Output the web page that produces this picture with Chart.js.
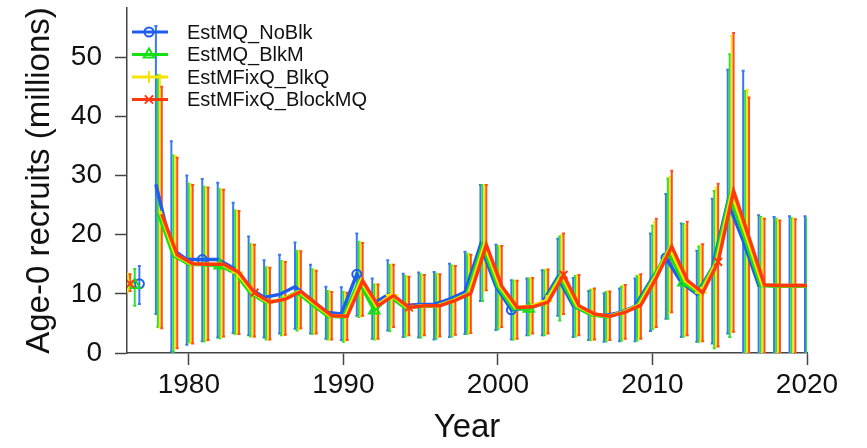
<!DOCTYPE html>
<html>
<head>
<meta charset="utf-8">
<script src="https://cdn.jsdelivr.net/npm/chart.js@4.4.1/dist/chart.umd.min.js"></script>
<style>
  html, body { margin: 0; padding: 0; background: #fff; }
  #wrap { width: 867px; height: 448px; }
</style>
</head>
<body>
<div id="wrap"><canvas id="chart" width="867" height="448"></canvas></div>
<script>
// Age-0 recruitment estimates (millions) with 95% intervals, four model runs
const years = [1978, 1979, 1980, 1981, 1982, 1983, 1984, 1985, 1986, 1987,
               1988, 1989, 1990, 1991, 1992, 1993, 1994, 1995, 1996, 1997,
               1998, 1999, 2000, 2001, 2002, 2003, 2004, 2005, 2006, 2007,
               2008, 2009, 2010, 2011, 2012, 2013, 2014, 2015, 2016, 2017,
               2018, 2019, 2020];
const seriesNames = ['EstMQ_NoBlk', 'EstMQ_BlkM', 'EstMFixQ_BlkQ', 'EstMFixQ_BlockMQ'];

const noBlk   = [28.5, 17.7, 15.8, 15.8, 15.8, 14.4, 11.1, 9.4, 9.9, 11.2,
                 9.1, 6.9, 6.6, 13.3, 8.3, 9.8, 8.0, 8.2, 8.2, 9.1,
                 10.3, 18.2, 11.3, 7.3, 7.6, 8.5, 12.8, 8.0, 6.7, 6.3,
                 6.8, 7.9, 12.2, 16.1, 11.9, 10.0, 14.4, 25.5, 19.0, 11.5,
                 11.4, 11.4, 11.4];
const noBlkLo = [6.6, 0.2, 1.4, 2.0, 2.6, 3.4, 3.0, 2.6, 3.3, 4.1,
                 3.3, 2.4, 2.2, 6.3, 2.4, 3.8, 2.7, 2.6, 2.3, 2.7,
                 3.2, 8.8, 3.9, 2.3, 3.0, 3.0, 6.3, 2.7, 2.2, 1.9,
                 2.0, 2.0, 3.7, 5.8, 2.7, 1.9, 1.6, 3.3, 0, 0,
                 0, 0, 0];
const noBlkHi = [55.3, 35.8, 30.0, 29.4, 28.8, 25.4, 19.7, 15.7, 16.6, 18.7,
                 14.9, 11.2, 11.1, 20.2, 12.6, 15.7, 13.4, 13.6, 13.7, 15.1,
                 17.1, 28.4, 18.3, 12.3, 12.6, 14.0, 19.3, 12.7, 10.5, 10.1,
                 10.9, 12.6, 20.2, 26.9, 21.9, 17.3, 26.1, 47.9, 47.7, 23.3,
                 23.0, 23.1, 23.1];

const blkM   = [23.8, 16.5, 15.0, 14.9, 14.8, 13.5, 10.1, 8.5, 9.0, 10.3,
                8.2, 6.2, 6.1, 12.1, 7.2, 9.6, 7.6, 7.9, 7.9, 8.8,
                10.0, 18.2, 11.2, 7.5, 7.5, 8.5, 12.9, 7.9, 6.5, 6.1,
                6.8, 8.0, 12.4, 17.3, 11.9, 10.1, 14.9, 26.5, 19.2, 11.4,
                11.3, 11.3, 11.3];
const blkMLo = [4.4, 0.2, 1.8, 2.0, 2.5, 3.2, 2.8, 2.3, 3.0, 3.8,
                3.2, 2.3, 1.9, 6.1, 2.3, 3.7, 2.8, 2.6, 2.4, 2.8,
                3.2, 8.8, 4.0, 2.3, 3.0, 3.0, 5.5, 2.8, 2.2, 2.0,
                2.1, 2.1, 4.0, 5.8, 2.8, 1.9, 0.8, 2.7, 0, 0,
                0, 0, 0];
const blkMHi = [47.0, 33.4, 28.6, 28.1, 27.7, 24.1, 18.4, 14.5, 15.5, 17.3,
                14.1, 10.5, 10.3, 18.8, 11.6, 14.9, 13.0, 13.3, 13.4, 14.8,
                16.8, 28.4, 18.1, 12.2, 12.6, 14.0, 19.7, 13.0, 10.7, 10.3,
                11.2, 13.0, 21.5, 29.5, 21.8, 18.0, 27.4, 50.5, 44.3, 23.0,
                22.7, 22.8, 22.8];

const blkQ   = [24.0, 16.6, 15.1, 15.0, 15.0, 13.6, 10.2, 8.6, 9.1, 10.4,
                8.3, 6.3, 6.2, 12.2, 8.0, 9.8, 7.7, 8.0, 8.0, 8.9,
                10.1, 18.3, 11.3, 7.7, 7.9, 8.8, 13.1, 8.0, 6.6, 6.2,
                6.9, 8.1, 12.6, 17.7, 12.2, 10.2, 15.2, 27.0, 19.4, 11.5,
                11.4, 11.4, 11.4];
const blkQLo = [4.3, 0.8, 1.7, 2.1, 2.7, 3.2, 2.8, 2.3, 3.1, 4.0,
                3.3, 2.3, 2.1, 6.2, 2.4, 4.3, 3.0, 3.0, 2.8, 3.1,
                3.4, 10.6, 4.4, 2.4, 3.3, 3.3, 6.5, 3.0, 2.3, 2.2,
                2.4, 2.4, 4.3, 6.8, 3.0, 2.0, 1.1, 3.6, 0, 0,
                0, 0, 0];
const blkQHi = [47.0, 33.3, 28.5, 28.0, 27.6, 24.0, 18.3, 14.4, 15.4, 17.2,
                14.0, 10.4, 10.2, 18.7, 11.6, 14.9, 12.9, 13.2, 13.3, 14.7,
                16.7, 28.4, 18.1, 12.2, 12.7, 14.1, 20.0, 13.1, 10.8, 10.4,
                11.4, 13.2, 22.2, 29.8, 21.6, 18.2, 28.0, 53.6, 44.5, 22.8,
                22.5, 22.7, 22.7];

const blockMQ   = [23.5, 16.6, 15.1, 15.0, 15.0, 13.6, 10.2, 8.6, 9.1, 10.4,
                   8.3, 6.3, 6.2, 12.2, 8.0, 9.7, 7.7, 8.0, 8.0, 8.9,
                   10.1, 18.3, 11.3, 7.7, 7.8, 8.6, 13.2, 8.0, 6.6, 6.2,
                   6.9, 8.1, 12.7, 18.0, 12.3, 10.2, 15.4, 27.4, 19.5, 11.5,
                   11.4, 11.4, 11.4];
const blockMQLo = [4.2, 0.8, 1.6, 2.2, 2.8, 3.2, 2.8, 2.3, 3.1, 4.2,
                   3.3, 2.3, 2.2, 6.3, 2.4, 4.4, 3.0, 3.0, 2.8, 3.1,
                   3.4, 10.6, 4.4, 2.4, 3.3, 3.3, 6.6, 3.0, 2.3, 2.2,
                   2.4, 2.4, 4.4, 6.9, 3.0, 2.0, 1.1, 3.6, 0, 0,
                   0, 0, 0];
const blockMQHi = [45.0, 33.0, 28.4, 28.0, 27.6, 24.0, 18.3, 14.4, 15.4, 17.2,
                   13.9, 10.3, 10.2, 18.6, 11.6, 14.9, 12.9, 13.2, 13.3, 14.7,
                   16.6, 28.4, 18.1, 12.2, 12.7, 14.1, 20.2, 13.2, 10.9, 10.4,
                   11.5, 13.3, 22.7, 30.8, 22.2, 18.4, 28.6, 54.1, 43.2, 22.7,
                   22.4, 22.6, 22.6];

// unfished (initial) recruitment, shown apart from the time series
const initX  = [1976.8, 1976.5, 1976.1, 1976.2];
const initR  = [11.7, 11.5, 11.6, 11.7];
const initLo = [8.3, 8.0, 10.4, 10.5];
const initHi = [14.7, 14.2, 13.4, 13.3];

// years that carry a symbol on each line
const markYears = [
  [1981, 1991, 2001, 2011],
  [1982, 1992, 2002, 2012],
  [1983, 1993, 2003, 2013],
  [1984, 1994, 2004, 2014]
];

const xTicks = [1980, 1990, 2000, 2010, 2020];
const yTicks = [0, 10, 20, 30, 40, 50];

const seriesVals = [noBlk, blkM, blkQ, blockMQ];
const seriesLo = [noBlkLo, blkMLo, blkQLo, blockMQLo];
const seriesHi = [noBlkHi, blkMHi, blkQHi, blockMQHi];

const lineColors = ['#1f5cf0', '#14e014', '#f7e400', '#ff3a0a'];
const barColors  = ['#3a78f2', '#30e030', '#f8e614', '#ff4f20'];
const pointStyles = ['circle', 'triangle', 'cross', 'crossRot'];
const pointSizes = [4.5, 6, 6, 5.5];
const xShift = [-0.13, 0, 0.13, 0.25];

const FONT = '"Liberation Sans", Arial, sans-serif';
Chart.defaults.font.family = FONT;
Chart.defaults.color = '#000';

function buildSeries(s) {
  const pts = [{ x: initX[s], y: initR[s], lo: initLo[s], hi: initHi[s], mark: true },
               { x: initX[s] + 0.5, y: null }];
  years.forEach((yr, i) => {
    pts.push({
      x: yr + xShift[s],
      y: seriesVals[s][i],
      lo: seriesLo[s][i],
      hi: seriesHi[s][i],
      mark: markYears[s].includes(yr)
    });
  });
  return pts;
}

const datasets = seriesNames.map((name, s) => ({
  label: name,
  data: buildSeries(s),
  borderColor: lineColors[s],
  borderWidth: 3.5,
  barColor: barColors[s],
  pointStyle: pointStyles[s],
  pointRadius: (c) => (c.raw && c.raw.mark ? pointSizes[s] : 0),
  pointBorderColor: lineColors[s],
  pointBackgroundColor: 'rgba(0,0,0,0)',
  pointBorderWidth: 2,
  spanGaps: false,
  tension: 0,
  order: 3 - s
}));

// vertical interval bars with small caps, under the lines
const errorBars = {
  id: 'errorBars',
  beforeDatasetsDraw(chart) {
    const { ctx, chartArea: a, scales: { x, y } } = chart;
    ctx.save();
    ctx.beginPath();
    ctx.rect(a.left, a.top, a.right - a.left, a.bottom - a.top);
    ctx.clip();
    ctx.lineWidth = 2;
    chart.data.datasets.forEach((ds) => {
      ctx.strokeStyle = ds.barColor;
      ds.data.forEach((p) => {
        if (p.y == null) return;
        const px = x.getPixelForValue(p.x);
        const top = y.getPixelForValue(p.hi);
        const bot = y.getPixelForValue(p.lo);
        ctx.beginPath();
        ctx.moveTo(px, top);
        ctx.lineTo(px, bot);
        ctx.moveTo(px - 1.5, top);
        ctx.lineTo(px + 1.5, top);
        ctx.moveTo(px - 1.5, bot);
        ctx.lineTo(px + 1.5, bot);
        ctx.stroke();
      });
    });
    ctx.restore();
  }
};

function drawMarker(ctx, style, cx, cy, r) {
  ctx.beginPath();
  if (style === 'circle') {
    ctx.arc(cx, cy, r, 0, Math.PI * 2);
  } else if (style === 'triangle') {
    ctx.moveTo(cx, cy - r);
    ctx.lineTo(cx + r * 0.87, cy + r * 0.5);
    ctx.lineTo(cx - r * 0.87, cy + r * 0.5);
    ctx.closePath();
  } else if (style === 'cross') {
    ctx.moveTo(cx - r, cy); ctx.lineTo(cx + r, cy);
    ctx.moveTo(cx, cy - r); ctx.lineTo(cx, cy + r);
  } else {
    const d = r * 0.75;
    ctx.moveTo(cx - d, cy - d); ctx.lineTo(cx + d, cy + d);
    ctx.moveTo(cx - d, cy + d); ctx.lineTo(cx + d, cy - d);
  }
  ctx.stroke();
}

// legend in the upper-left corner of the plot, no frame
const cornerLegend = {
  id: 'cornerLegend',
  afterDraw(chart) {
    const { ctx, chartArea: a } = chart;
    ctx.save();
    ctx.font = '20px ' + FONT;
    ctx.textBaseline = 'middle';
    seriesNames.forEach((name, s) => {
      const yy = a.top + 24 + s * 22.5;
      const x0 = a.left + 5;
      ctx.strokeStyle = lineColors[s];
      ctx.lineWidth = 3;
      ctx.beginPath();
      ctx.moveTo(x0, yy);
      ctx.lineTo(x0 + 36, yy);
      ctx.stroke();
      ctx.lineWidth = 2;
      drawMarker(ctx, pointStyles[s], x0 + 17, yy, pointSizes[s]);
      ctx.fillStyle = '#111';
      ctx.fillText(name, a.left + 60, yy + 1);
    });
    ctx.restore();
  }
};

new Chart(document.getElementById('chart'), {
  type: 'line',
  data: { datasets },
  options: {
    responsive: false,
    animation: false,
    events: [],
    devicePixelRatio: 1,
    layout: { padding: { left: 0, top: 3, right: 60, bottom: 0 } },
    plugins: {
      legend: { display: false },
      tooltip: { enabled: false }
    },
    scales: {
      x: {
        type: 'linear',
        min: 1976,
        max: 2020,
        afterBuildTicks: (s) => { s.ticks = xTicks.map(v => ({ value: v })); },
        afterFit: (s) => { s.height = 95; s.paddingLeft = 0; s.paddingRight = 0; },
        ticks: { font: { size: 28 }, padding: 3, maxRotation: 0, autoSkip: false, color: '#111',
                 callback: (v) => String(v) },
        grid: { display: true, drawOnChartArea: false, drawTicks: true, tickLength: 12, tickColor: '#444', tickWidth: 1.5 },
        border: { display: true, color: '#444', width: 1.5 },
        title: { display: true, text: 'Year', font: { size: 33 }, color: '#111', padding: { top: 0, bottom: 0 } }
      },
      y: {
        min: 0,
        max: 58.33,
        afterBuildTicks: (s) => { s.ticks = yTicks.map(v => ({ value: v })); },
        afterFit: (s) => { s.width = 127; s.paddingTop = 0; s.paddingBottom = 0; },
        ticks: { font: { size: 28 }, padding: 13, autoSkip: false, color: '#111',
                 callback: (v) => String(v) },
        grid: { display: true, drawOnChartArea: false, drawTicks: true, tickLength: 12, tickColor: '#444', tickWidth: 1.5 },
        border: { display: true, color: '#444', width: 1.5 },
        title: { display: true, text: 'Age-0 recruits (millions)', font: { size: 33 }, color: '#111', padding: { top: 20, bottom: 0 } }
      }
    }
  },
  plugins: [errorBars, cornerLegend]
});
</script>
</body>
</html>
